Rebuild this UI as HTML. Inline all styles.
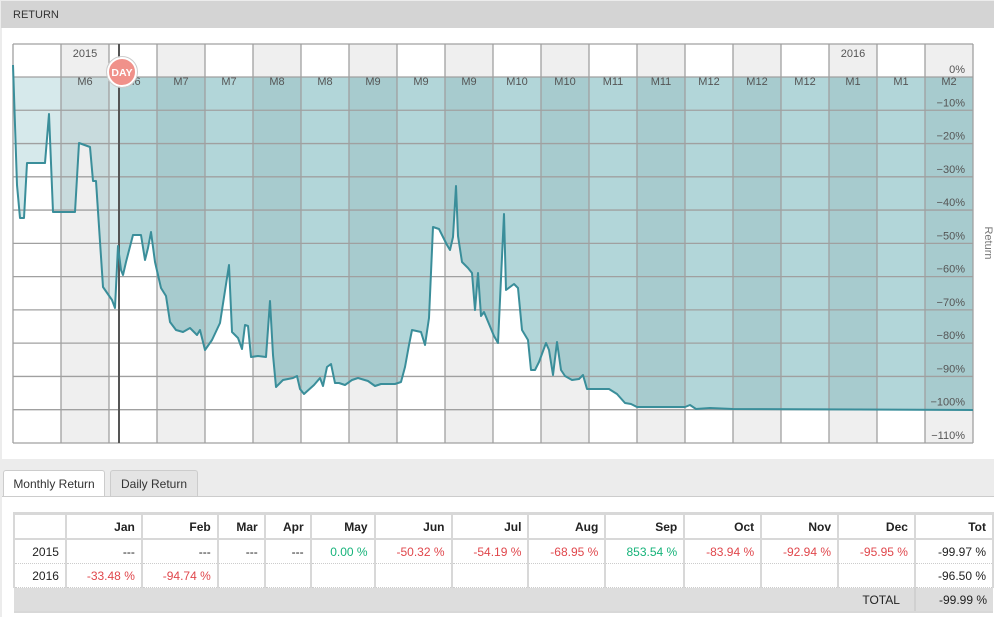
<!DOCTYPE html>
<html><head><meta charset="utf-8"><style>
body{margin:0;width:994px;height:616px;background:#ececec;font-family:"Liberation Sans",sans-serif;overflow:hidden;position:relative}
.hdr{position:absolute;left:1px;top:1px;width:993px;height:27px;background:#d4d4d4;font-size:11px;color:#333;line-height:28px;padding-left:12px;box-sizing:border-box}
.panel{position:absolute;left:2px;top:28px;width:992px;height:431px;background:#fff}
.tab{position:absolute;top:470px;height:26px;border:1px solid #ccc;border-bottom:none;border-radius:3px 3px 0 0;font-size:12px;line-height:26px;text-align:center;color:#333;box-sizing:border-box}
.tp{position:absolute;left:2px;top:496px;width:992px;height:120px;background:#fff;border-top:1px solid #ccc}
table{position:absolute;left:13px;top:512px;border-collapse:collapse;font-size:12px;table-layout:fixed}
td{border-left:2px solid #d8d8d8;border-right:2px solid #d8d8d8;height:23px;padding:0 6px;text-align:right;color:#222}
tr.h td{font-weight:bold;border-top:3px solid #d8d8d8;border-bottom:2px solid #d8d8d8}
tr.r td{border-bottom:1px dotted #ccc}
.n{color:#e0474c}.p{color:#16b37a}
tr.t td{background:#ddd;border-left:none;border-right:none;border-bottom:2px solid #d8d8d8}
</style></head><body>
<div class="hdr">RETURN</div>
<div class="panel"></div>
<svg style="position:absolute;left:0;top:0" width="994" height="460">
<defs>
<clipPath id="cl"><rect x="13" y="77" width="106" height="370"/></clipPath>
<clipPath id="cr"><rect x="119" y="77" width="854" height="370"/></clipPath>
</defs>
<rect x="13" y="44" width="960" height="399" fill="#fff"/>
<g fill="#efefef">
<rect x="61" y="44" width="48" height="399"/><rect x="157" y="44" width="48" height="399"/><rect x="253" y="44" width="48" height="399"/><rect x="349" y="44" width="48" height="399"/><rect x="445" y="44" width="48" height="399"/><rect x="541" y="44" width="48" height="399"/><rect x="637" y="44" width="48" height="399"/><rect x="733" y="44" width="48" height="399"/><rect x="829" y="44" width="48" height="399"/><rect x="925" y="44" width="48" height="399"/>
</g>
<polygon id="ar" clip-path="url(#cr)" fill="rgb(0,120,130)" fill-opacity="0.3" points=""/>
<polygon id="al" clip-path="url(#cl)" fill="rgb(0,120,130)" fill-opacity="0.16" points=""/>
<g stroke="#a0a0a0" stroke-width="1.3" id="grid"></g>
<line x1="119" y1="44" x2="119" y2="443" stroke="#555" stroke-width="2"/>
<polyline id="ln" fill="none" stroke="#3a8e9a" stroke-width="2" stroke-linejoin="round" points=""/>
<g font-size="11" fill="#555" text-anchor="middle" id="ml"></g>
<text x="85" y="57" font-size="11" fill="#555" text-anchor="middle">2015</text>
<text x="853" y="57" font-size="11" fill="#555" text-anchor="middle">2016</text>
<g font-size="11" fill="#555" text-anchor="end" id="yl"></g>
<text transform="translate(985,243) rotate(90)" font-size="11" fill="#777" text-anchor="middle">Return</text>
<circle cx="122" cy="72" r="14" fill="#f0918a" stroke="#fff" stroke-width="2"/>
<circle cx="122" cy="72" r="15.5" fill="none" stroke="#ccc" stroke-width="1"/>
<text x="122" y="76" font-size="10.5" font-weight="bold" fill="#fff" text-anchor="middle">DAY</text>
</svg>
<div class="tab" style="left:3px;width:102px;background:#fff;height:27px">Monthly Return</div>
<div class="tab" style="left:110px;width:88px;background:#e4e4e4">Daily Return</div>
<div class="tp"></div>
<table>
<colgroup><col style="width:52px"><col style="width:76px"><col style="width:76px"><col style="width:47px"><col style="width:46px"><col style="width:64px"><col style="width:77px"><col style="width:77px"><col style="width:77px"><col style="width:79px"><col style="width:77px"><col style="width:77px"><col style="width:77px"><col style="width:78px"></colgroup>
<tr class="h"><td></td><td>Jan</td><td>Feb</td><td>Mar</td><td>Apr</td><td>May</td><td>Jun</td><td>Jul</td><td>Aug</td><td>Sep</td><td>Oct</td><td>Nov</td><td>Dec</td><td>Tot</td></tr>
<tr class="r"><td>2015</td><td>---</td><td>---</td><td>---</td><td>---</td><td class="p">0.00 %</td><td class="n">-50.32 %</td><td class="n">-54.19 %</td><td class="n">-68.95 %</td><td class="p">853.54 %</td><td class="n">-83.94 %</td><td class="n">-92.94 %</td><td class="n">-95.95 %</td><td>-99.97 %</td></tr>
<tr class="r"><td>2016</td><td class="n">-33.48 %</td><td class="n">-94.74 %</td><td></td><td></td><td></td><td></td><td></td><td></td><td></td><td></td><td></td><td></td><td>-96.50 %</td></tr>
<tr class="t"><td colspan="13" style="padding-right:14px">TOTAL</td><td style="border-left:2px solid #d0d0d0">-99.99 %</td></tr>
</table>
<script>
var p="13,65 17,185 20,218 24,218 27,163 45,163 49,114 53,212 75,212 79,143 90,147 93,181 96,181 103,287 112,300 115,308 118,246 121,270 123,275 126,262 133,235 141,235 145,260 148,248 151,232 155,262 161,288 166,296 170,322 176,330 183,332 190,328 197,335 200,330 205,350 212,340 220,323 229,265 232,332 238,338 242,349 245,325 248,326 251,357 258,356 266,357 270,301 273,355 276,387 283,380 293,378 297,376 300,389 304,394 314,385 320,378 323,386 327,367 331,364 335,383 339,383 345,385 352,380 358,378 368,381 375,386 381,384 395,384 401,382 405,367 409,345 412,330 421,332 425,345 429,318 433,227 439,229 447,245 450,250 453,237 456,186 458,236 462,262 468,268 472,273 475,310 478,273 481,316 484,312 489,324 494,336 498,343 504,214 506,290 514,284 518,288 522,330 528,340 531,370 535,370 539,362 546,343 549,350 553,375 557,342 561,370 565,376 572,380 579,379 583,375 587,389 609,389 617,394 625,403 631,404 637,407 685,407 690,405 696,409 710,408 733,409 973,410";
document.getElementById('ln').setAttribute('points',p);
var a="13,77 "+p+" 973,77";
document.getElementById('ar').setAttribute('points',a);
document.getElementById('al').setAttribute('points',a);
var g=document.getElementById('grid'),s='';
for(var x=13;x<=973;x+=48)s+='<line x1="'+x+'" y1="44" x2="'+x+'" y2="443"/>';
for(var i=0;i<=11;i++){var y=77+i*33.27;s+='<line x1="13" y1="'+y+'" x2="973" y2="'+y+'"/>';}
s+='<line x1="13" y1="44" x2="973" y2="44"/>';
g.innerHTML=s;
var m=["M6","M6","M7","M7","M8","M8","M9","M9","M9","M10","M10","M11","M11","M12","M12","M12","M1","M1","M2"],t='';
for(var k=0;k<m.length;k++)t+='<text x="'+(85+48*k)+'" y="85">'+m[k]+'</text>';
document.getElementById('ml').innerHTML=t;
var u='';for(var i=0;i<=11;i++){u+='<text x="965" y="'+(73+i*33.27)+'">'+(i?'\u2212'+i*10:'0')+'%</text>';}
document.getElementById('yl').innerHTML=u;
</script>
</body></html>
